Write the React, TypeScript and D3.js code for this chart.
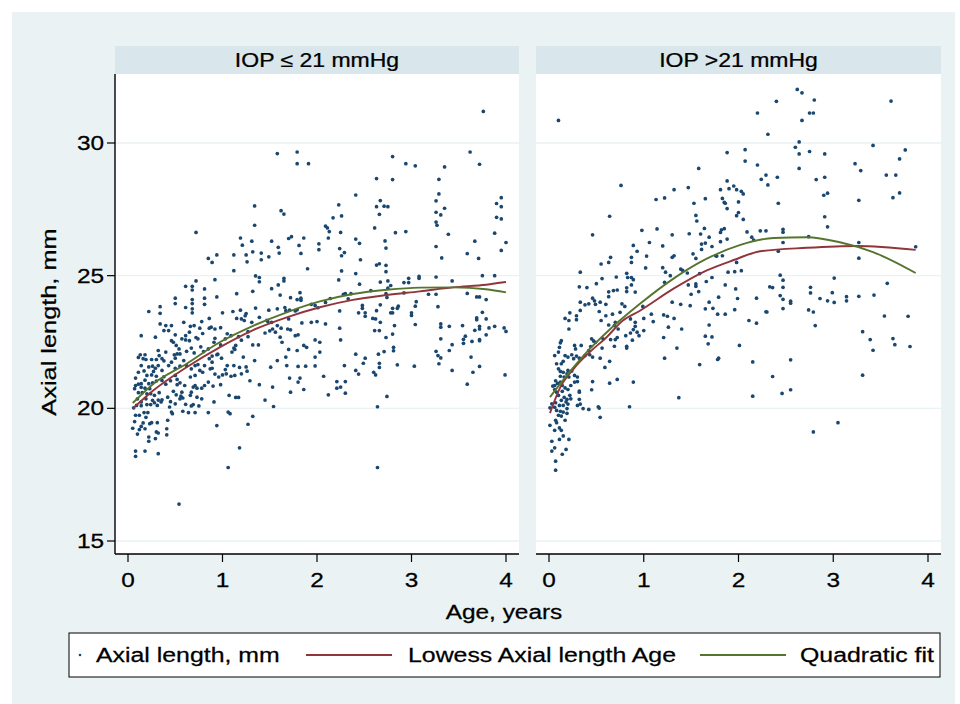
import React from "react";
import * as d3 from "d3";

// axis ticks and labels
const xTicks = [0, 1, 2, 3, 4];
const yTicks = [15, 20, 25, 30];
const panelTitles = ["IOP \u2264 21 mmHg", "IOP >21 mmHg"];
const xTitle = "Age, years";
const yTitle = "Axial length, mm";
const legendLabels = ["Axial length, mm", "Lowess Axial length Age", "Quadratic fit"];

// IOP <= 21: [age, axial length]
const leftPoints: [number, number][] = [
  [1.58,29.6],[1.79,29.66],[1.79,29.22],[1.91,29.22],[1.34,27.63],[1.62,27.45],[1.65,27.32],[1.34,26.9],[0.72,26.63],[1.19,26.42],
  [1.31,26.3],[1.52,26.3],[1.70,26.4],[1.73,26.47],[1.86,26.42],[1.21,26.15],[1.59,26.07],[1.81,26.14],[2.02,26.2],[2.02,25.98],
  [0.85,25.65],[0.89,25.5],[0.94,25.78],[1.12,25.78],[1.25,25.78],[1.32,25.9],[1.41,25.85],[1.41,25.6],[1.49,25.71],[1.60,25.85],
  [1.83,25.84],[1.26,25.52],[1.12,25.19],[1.90,25.26],[0.72,24.8],[0.92,24.85],[0.61,24.6],[0.68,24.6],[0.68,24.46],[0.81,24.5],
  [1.35,24.99],[1.39,24.93],[1.39,24.77],[1.65,24.9],[1.65,24.8],[1.59,24.65],[1.52,24.51],[1.32,24.41],[1.15,24.32],[1.82,24.36],
  [0.5,24.15],[0.5,23.95],[0.34,23.83],[0.22,23.65],[0.61,23.8],[0.68,23.75],[0.68,23.6],[0.68,24.1],[0.68,23.95],[0.81,24.15],
  [0.81,23.92],[0.94,24.2],[1.0,23.6],[0.34,23.58],[1.11,23.65],[1.19,23.7],[1.25,23.57],[1.35,23.78],[1.49,23.7],[1.58,23.75],
  [1.66,23.8],[1.67,23.68],[1.61,24.27],[1.72,24.17],[1.79,24.1],[1.83,24.15],[1.83,24.07],[1.71,23.7],[1.79,23.72],[1.94,23.92],
  [3.76,31.19],[3.62,29.66],[2.80,29.49],[2.94,29.22],[3.04,29.14],[3.35,29.1],[3.72,29.2],[2.63,28.66],[2.80,28.62],[3.29,28.63],
  [2.41,28.04],[3.29,28.08],[3.26,27.82],[2.67,27.83],[2.23,27.67],[2.63,27.6],[2.71,27.62],[2.75,27.6],[2.66,27.31],[3.35,27.54],
  [3.26,27.39],[3.31,27.29],[2.17,27.18],[2.26,27.25],[3.90,27.72],[3.95,27.94],[3.95,27.6],[3.90,27.2],[3.95,27.14],[2.09,26.87],
  [2.11,26.8],[2.13,26.66],[2.25,26.63],[2.61,26.8],[2.83,26.62],[2.94,26.66],[3.26,27.02],[3.27,26.9],[3.39,26.56],[3.88,26.6],
  [2.12,26.42],[2.41,26.38],[2.45,26.22],[2.72,26.31],[2.73,26.04],[2.24,26.02],[2.26,25.75],[2.29,25.87],[2.46,25.6],[3.26,26.1],
  [3.32,25.67],[3.59,25.83],[3.67,26.3],[3.71,25.65],[3.95,25.95],[4.0,26.25],[2.63,25.4],[2.66,25.45],[2.73,25.39],[2.73,25.15],
  [2.26,25.18],[2.41,25.08],[2.23,24.84],[2.45,24.68],[2.67,24.76],[2.75,24.8],[2.78,24.63],[2.75,24.53],[2.92,24.74],[2.97,24.9],
  [2.97,24.74],[3.08,24.97],[3.08,24.9],[3.26,24.95],[3.43,24.8],[3.75,25.0],[3.88,25.0],[2.14,24.14],[2.09,23.99],[2.3,24.32],
  [2.28,24.3],[2.33,24.13],[2.36,24.32],[2.57,24.44],[2.73,24.32],[2.74,24.18],[2.92,24.35],[3.18,24.3],[3.26,24.3],[3.28,23.83],
  [3.05,24.02],[3.04,23.85],[3.59,24.33],[3.69,24.2],[3.72,24.2],[3.79,24.1],[3.75,23.62],[2.48,23.88],[2.48,23.77],[2.67,23.9],
  [2.80,23.77],[2.86,23.85],[2.85,23.77],[2.78,23.6],[2.80,23.6],[2.63,23.68],[2.44,23.6],[2.51,23.6],[2.24,23.67],[1.98,23.88],
  [2.01,23.79],[3.0,23.6],
  [2.64,20.06],[2.64,17.77],[2.74,20.45],[2.12,20.51],[2.30,20.57],[2.21,20.76],[2.25,20.8],[2.21,21.01],[2.30,21.01],[2.07,21.21],
  [1.98,21.6],[1.98,21.93],[2.03,22.12],[2.03,22.49],[1.98,22.58],[2.0,23.27],[2.09,23.18],[2.24,23.02],[2.25,22.58],[2.29,21.61],
  [2.41,22.04],[2.51,21.89],[2.49,21.7],[2.41,21.43],[2.44,21.29],[2.60,21.36],[2.62,21.26],[2.65,22.04],[2.66,21.7],[2.66,21.54],
  [2.71,22.14],[2.73,22.67],[2.81,22.3],[2.81,22.17],[2.80,22.8],[2.82,23.12],[2.85,21.64],[2.61,22.93],[2.66,22.93],[2.67,23.24],
  [2.59,23.39],[2.62,23.37],[2.51,23.47],[3.0,23.5],[3.04,23.16],[3.03,21.59],[3.26,22.15],[3.28,21.99],[3.31,21.9],[3.29,21.68],
  [3.31,23.18],[3.31,23.06],[3.31,22.62],[3.4,23.09],[3.43,22.4],[3.4,22.18],[3.43,21.43],[3.54,23.12],[3.57,22.72],[3.55,22.6],
  [3.55,22.45],[3.64,22.52],[3.63,21.93],[3.65,21.36],[3.59,20.91],[3.72,21.58],[3.67,22.94],[3.72,23.09],[3.72,22.99],[3.69,23.34],
  [3.69,23.41],[3.79,23.37],[3.82,23.03],[3.79,22.77],[3.72,22.59],[3.72,22.55],[3.88,23.09],[3.98,23.03],[4.0,22.9],[3.99,21.26],
  [0.54,16.39],[1.06,17.77],[1.18,18.51],[0.08,18.19],[0.08,18.39],[0.18,18.39],[0.32,18.29],[1.32,19.70],[1.27,19.40],[0.94,19.35],
  [0.22,18.76],[0.22,18.92],[0.29,18.86],[0.30,19.11],[0.32,19.07],[0.41,19.0],[0.41,19.23],[0.10,19.03],[0.05,19.25],[0.07,19.5],
  [0.12,19.2],[0.14,19.32],[0.18,19.23],[0.25,19.46],[0.31,19.46],[0.23,19.42],[0.16,19.45],[0.19,19.66],[0.08,19.74],[0.12,19.74],
  [0.17,19.84],[0.21,19.84],[0.06,20.02],[0.09,20.11],[0.14,20.1],[0.20,20.14],[0.24,20.14],[0.28,20.21],[0.31,20.11],[0.35,20.24],
  [0.32,20.31],[0.26,20.3],[0.19,20.36],[0.14,20.24],[0.10,20.36],[0.07,20.74],[0.08,20.86],[0.11,20.91],[0.14,20.79],[0.18,20.76],
  [0.23,20.74],[0.24,20.55],[0.20,20.55],[0.15,20.59],[0.11,20.59],[0.28,20.49],[0.33,20.59],[0.36,20.32],[0.42,20.42],[0.45,20.25],
  [0.46,19.86],[0.47,19.8],[0.42,19.55],[0.48,20.64],[0.51,20.51],[0.55,20.36],[0.56,20.46],[0.58,19.89],[0.61,20.15],[0.64,19.84],
  [0.67,20.09],[0.71,19.84],[0.75,20.09],[0.78,20.36],[0.67,20.61],[0.69,20.8],[0.71,20.86],[0.73,20.76],[0.60,20.86],[0.55,20.96],
  [0.52,20.89],[0.52,21.09],[0.50,21.24],[0.45,21.04],[0.40,20.91],[0.36,21.05],[0.30,21.03],[0.26,20.96],[0.22,20.93],[0.18,21.06],
  [0.14,20.93],[0.08,21.14],[0.11,21.36],[0.14,21.61],[0.17,21.41],[0.20,21.24],[0.25,21.26],[0.27,21.39],[0.30,21.21],[0.29,21.51],
  [0.32,21.61],[0.36,21.43],[0.38,21.19],[0.26,21.59],[0.22,21.56],[0.19,21.84],[0.16,21.87],[0.11,21.92],[0.13,22.02],[0.18,22.02],
  [0.25,21.84],[0.30,21.84],[0.33,21.99],[0.36,21.87],[0.40,22.12],[0.38,21.79],[0.32,22.18],[0.29,22.68],[0.14,22.74],[0.46,22.55],
  [0.48,22.49],[0.51,22.37],[0.54,22.24],[0.52,22.05],[0.49,22.02],[0.55,22.05],[0.50,21.89],[0.46,21.74],[0.43,21.61],[0.50,21.51],
  [0.55,21.59],[0.59,21.8],[0.61,22.58],[0.65,22.55],[0.67,22.27],[0.62,22.15],[0.70,22.09],[0.71,21.61],[0.74,21.65],[0.76,21.43],
  [0.79,21.36],[0.81,21.61],[0.86,21.87],[0.89,21.97],[0.94,22.02],[0.99,21.89],[0.87,21.49],[0.89,21.51],[0.92,21.29],[0.96,21.18],
  [1.0,21.26],[1.04,21.3],[1.09,21.21],[1.13,21.24],[1.20,21.3],[1.26,21.4],[1.12,21.61],[1.05,21.61],[1.03,21.46],[1.18,21.54],
  [1.25,21.56],[1.29,21.04],[1.34,21.8],[1.39,20.89],[1.45,20.31],[1.54,20.07],[1.53,20.8],[1.51,21.55],[1.58,21.8],[1.67,21.93],
  [1.68,21.61],[1.71,21.14],[1.72,20.61],[1.80,20.99],[1.82,21.14],[1.86,20.71],[1.80,21.58],[1.88,21.59],[1.89,22.3],[1.86,22.37],
  [1.79,22.18],[1.70,22.22],[1.63,22.49],[1.61,22.68],[1.56,22.87],[1.50,22.92],[1.45,22.84],[1.38,22.39],[1.32,22.39],[1.22,21.93],
  [1.17,22.7],[1.14,22.37],[1.12,22.27],[1.09,22.74],[1.05,22.81],[1.03,22.62],[0.98,22.39],[0.92,22.64],[0.91,22.49],[0.85,22.24],
  [0.80,22.14],[0.77,22.32],[0.74,22.62],[0.72,22.67],[0.79,22.82],[0.86,23.02],[0.92,22.99],[0.76,23.02],[0.70,23.12],[0.66,23.09],
  [0.65,22.87],[0.61,22.74],[0.57,22.62],[0.50,22.77],[0.43,22.93],[0.46,23.12],[0.38,22.93],[0.71,21.24],[0.66,21.18],[0.66,20.49],
  [0.73,20.42],[0.58,20.39],[0.85,20.99],[0.90,20.84],[0.98,20.89],[1.07,20.49],[1.14,20.41],[1.17,20.41],[1.06,19.86],[1.08,19.8],
  [0.91,20.24],[0.85,19.84],[0.69,20.14],[0.57,20.61],[0.50,20.17],[0.44,20.05],[0.78,20.76],[0.81,20.86],[0.62,21.61],[0.67,21.49],
  [0.89,21.74],[0.95,22.04],[1.10,22.12],[1.13,22.22],[1.20,22.57],[1.27,22.89],[1.24,23.49],[1.20,23.37],[1.15,23.39],[1.23,23.31],
  [1.31,23.24],[1.39,23.43],[1.47,23.32],[1.52,23.24],[1.58,23.12],[1.62,23.02],[1.69,22.99],[1.72,22.96],[1.77,22.74],[1.80,22.77],
  [1.84,23.22],[1.94,23.24],[1.77,23.67],[1.70,23.37],[1.53,22.99],[1.48,23.27],[1.27,22.7],[0.34,23.18],[0.40,23.12],[0.59,23.24],
  [0.78,23.27],[0.88,23.06],[0.98,23.04],[0.86,23.39],
];

// IOP > 21: [age, axial length]
const rightPoints: [number, number][] = [
  [0.10,30.85],[0.76,28.4],[0.64,27.24],[0.46,26.54],[1.58,29.04],[1.88,29.64],[1.88,28.57],[1.95,28.38],[1.90,28.28],[1.81,28.24],
  [1.98,28.24],[1.47,28.32],[1.32,28.24],[1.22,27.93],[1.13,27.87],[1.53,27.73],[1.65,27.9],[1.55,27.27],[1.56,27.06],[1.83,27.91],
  [1.85,27.76],[1.86,27.73],[1.88,27.53],[1.98,27.26],[2.0,27.38],[2.0,27.78],
  [0.98,26.71],[1.14,26.76],[1.30,26.54],[1.48,26.58],[1.60,26.57],[1.64,26.78],[1.69,26.45],[1.81,26.63],[1.82,26.73],[1.85,26.77],
  [1.88,26.38],[1.81,26.28],[1.65,26.23],[1.61,25.99],[1.61,26.19],[1.72,26.1],[1.77,25.74],[1.83,25.75],[1.30,25.69],[1.32,25.75],
  [1.06,26.25],[1.03,25.74],[0.89,26.14],[0.93,25.92],[0.87,25.69],[0.87,25.5],[1.20,26.12],[1.02,25.29],[0.55,25.44],[0.63,25.5],
  [0.65,25.69],[0.33,25.13],[0.32,24.58],[0.40,24.55],[0.50,24.7],[0.56,24.89],[0.71,24.95],[0.82,25.09],[0.83,24.93],[0.87,24.93],
  [0.89,24.85],[0.87,24.65],[0.82,24.54],[0.82,24.4],[0.91,24.38],[0.72,24.46],[0.68,24.44],[0.63,24.39],[0.63,24.21],[0.46,24.15],
  [0.48,24.05],[0.49,23.92],[0.33,24.0],[0.33,23.69],[0.38,23.9],[0.42,23.94],[0.22,23.6],[0.54,24.0],[0.60,23.92],[0.53,23.65],
  [0.77,23.94],[0.80,23.84],[0.99,23.84],[1.20,25.3],[1.23,25.13],[1.39,25.25],[1.41,25.2],[1.46,25.1],[1.52,25.82],[1.55,25.65],
  [1.59,25.08],[1.55,24.69],[1.55,24.6],[1.47,24.65],[1.50,24.3],[1.39,23.92],[1.58,24.4],[1.66,24.78],[1.72,24.93],[1.76,25.75],
  [1.69,24.0],[1.65,23.75],[1.73,23.77],[1.86,24.65],[1.79,24.19],[1.89,25.13],[1.98,25.5],[1.97,24.5],[1.99,24.14],[1.22,24.75],
  [1.28,25.0],[1.30,24.0],[1.49,23.87],[1.78,23.55],[1.86,23.55],[0.67,23.55],[0.75,23.62],[1.08,23.55],
  [2.62,32.02],[2.67,31.89],[2.40,31.57],[2.80,31.62],[2.20,31.13],[2.75,31.13],[2.79,31.13],[2.67,30.85],[2.31,30.33],[3.61,31.58],
  [2.64,30.04],[2.6,29.84],[2.64,29.59],[2.64,29.04],[2.07,29.75],[2.07,29.32],[2.20,29.17],[2.75,29.68],[2.91,29.59],[3.42,29.91],
  [3.76,29.74],[3.70,29.4],[3.66,28.79],[3.56,28.79],[3.23,29.22],[3.29,28.96],[2.24,28.63],[2.29,28.79],[2.31,28.42],[2.41,28.71],
  [2.82,28.62],[2.91,28.71],[2.90,28.03],[2.94,28.11],[2.03,28.18],[2.05,28.08],[2.42,27.73],[3.70,28.12],[3.63,27.94],[3.27,27.84],
  [2.05,27.12],[2.91,27.22],[2.94,26.84],[2.09,26.65],[2.14,26.45],[2.16,26.34],[2.23,26.69],[2.29,26.69],[2.47,26.75],[2.47,26.64],
  [2.47,26.25],[2.42,25.92],[2.74,26.47],[3.27,26.25],[3.27,25.66],[3.87,26.09],[2.03,25.19],[2.44,25.02],[2.47,24.83],[2.47,24.56],
  [2.33,24.58],[2.36,24.55],[3.01,24.91],[3.57,24.71],[2.76,24.56],[2.76,24.35],[2.19,24.15],[2.44,24.25],[2.47,24.11],[2.55,24.04],
  [2.55,23.96],[2.86,24.14],[2.94,24.05],[3.01,23.99],[2.99,24.36],[3.14,24.21],[3.14,24.05],[3.27,24.22],[3.43,24.27],[1.96,25.15],
  [1.96,23.72],[2.29,23.64],[2.30,23.63],[2.47,23.76],[2.74,23.71],[2.79,23.63],[2.11,23.31],[2.19,23.21],[2.81,23.12],[3.54,23.48],
  [3.79,23.47],[3.31,22.89],[3.39,22.59],[3.42,22.19],[3.63,22.63],[3.65,22.4],[3.81,22.33],[2.01,22.37],[2.15,21.75],[2.55,21.83],
  [2.36,21.2],[3.31,21.25],[2.15,20.46],[2.46,20.56],[2.55,20.7],[3.05,19.46],[2.79,19.11],
  [0.17,23.39],[0.21,23.31],[0.21,22.99],[0.29,23.49],[0.29,23.34],[0.60,23.49],[0.55,23.31],[0.63,23.14],[0.69,23.12],[0.73,22.99],
  [0.70,23.24],[0.86,23.37],[0.91,23.24],[0.91,23.09],[1.0,23.39],[1.0,22.93],[1.10,23.27],[1.21,23.52],[1.25,23.47],[1.26,23.06],
  [1.32,23.39],[1.40,22.99],[1.69,23.14],[1.65,22.72],[1.72,22.69],[1.68,22.43],[1.21,22.67],[1.35,22.27],[1.22,21.89],[1.59,21.65],
  [1.78,21.84],[1.79,21.89],[1.37,20.40],
  [0.13,22.55],[0.12,22.47],[0.11,22.30],[0.06,21.99],[0.08,21.68],[0.13,21.68],[0.10,22.12],[0.17,21.99],[0.20,21.93],[0.15,21.77],
  [0.27,22.37],[0.28,22.24],[0.34,22.37],[0.29,21.97],[0.32,21.89],[0.26,21.87],[0.24,22.02],[0.45,22.62],[0.47,22.54],[0.49,22.49],
  [0.44,22.33],[0.42,22.18],[0.38,21.99],[0.43,22.02],[0.46,21.93],[0.56,22.27],[0.54,21.89],[0.59,21.54],[0.64,21.77],[0.69,22.34],
  [0.70,22.59],[0.72,22.67],[0.81,22.74],[0.82,22.34],[0.82,22.27],[0.88,22.57],[0.89,22.97],[0.86,22.84],[0.93,22.87],[0.95,22.74],
  [0.65,22.59],[0.57,22.62],
  [0.10,21.49],[0.12,21.39],[0.15,21.36],[0.19,21.3],[0.20,21.43],[0.24,21.41],[0.27,21.24],[0.30,21.18],[0.30,21.01],[0.21,21.18],
  [0.16,21.18],[0.12,21.21],[0.07,21.04],[0.04,20.84],[0.06,20.86],[0.09,20.94],[0.12,20.99],[0.14,20.86],[0.17,20.77],[0.20,20.71],
  [0.23,20.86],[0.27,20.99],[0.32,20.65],[0.32,20.34],[0.33,20.16],[0.30,20.11],[0.23,20.36],[0.22,20.49],[0.19,20.34],[0.16,20.41],
  [0.13,20.3],[0.10,20.49],[0.08,20.61],[0.06,20.71],[0.14,20.64],[0.18,20.24],[0.20,20.16],[0.19,19.99],[0.15,20.11],[0.11,20.11],
  [0.07,20.21],[0.03,20.17],[0.01,20.02],[0.06,20.04],[0.08,19.92],[0.12,19.89],[0.15,19.86],[0.19,19.81],[0.17,19.55],[0.13,19.71],
  [0.10,19.74],[0.07,19.55],[0.08,19.46],[0.11,19.26],[0.13,19.17],[0.06,19.17],[0.01,19.36],[0.03,18.76],[0.06,18.51],[0.03,18.39],
  [0.18,18.45],[0.14,18.27],[0.11,18.83],[0.15,18.96],[0.21,18.83],[0.07,18.01],[0.07,17.67],[0.36,19.99],[0.42,19.96],[0.52,20.06],
  [0.53,20.01],[0.54,19.66],[0.46,21.01],[0.45,20.7],[0.32,20.61],[0.72,21.09],[0.64,20.95],[0.89,20.99],[0.85,20.06],
];

// fitted curves: [age, axial length]
const leftLowess: [number, number][] = [
  [0.05,19.99],[0.27,20.68],[0.62,21.55],[0.97,22.3],[1.33,22.96],[1.68,23.43],[2.03,23.81],
  [2.38,24.09],[2.74,24.27],[3.09,24.41],[3.44,24.56],[3.79,24.66],[4.0,24.76],
];
const leftQuad: [number, number][] = [
  [0.05,20.2],[0.27,20.93],[0.62,21.68],[0.97,22.49],[1.33,23.12],[1.68,23.62],[2.03,24.03],
  [2.38,24.31],[2.74,24.47],[3.09,24.55],[3.44,24.56],[3.79,24.49],[4.0,24.37],
];
const rightLowess: [number, number][] = [
  [0.01,19.82],[0.12,20.8],[0.26,21.49],[0.43,22.12],[0.61,22.69],[0.78,23.31],[0.96,23.68],
  [1.31,24.5],[1.66,25.19],[1.95,25.59],[2.23,25.92],[2.72,26.05],[3.25,26.12],[3.87,25.97],
];
const rightQuad: [number, number][] = [
  [0.01,20.42],[0.26,21.55],[0.43,22.24],[0.61,22.87],[0.96,23.94],[1.31,24.88],[1.66,25.63],
  [2.02,26.16],[2.37,26.42],[2.72,26.45],[3.07,26.26],[3.42,25.89],[3.87,25.1],
];

const NAVY = "#1a476f";
const MAROON = "#90353b";
const GREEN = "#55752f";
const BG = "#eaf2f3";
const STRIP = "#d9e6eb";
const FONT = "'Liberation Sans', Arial, sans-serif";

// glyphs in the original are wider than Arial, so text is stretched sideways
function Label(props: any) {
  const { x, y, anchor = "middle", size = 19.5, rotate = 0, sx = 1.25, children } = props;
  return (
    <text
      transform={`translate(${x},${y})${rotate ? ` rotate(${rotate})` : ""} scale(${sx},1)`}
      textAnchor={anchor}
      fontSize={size}
      fontFamily={FONT}
      fill="#000"
      stroke="#000"
      strokeWidth={0.25}
    >
      {children}
    </text>
  );
}

export default function App() {
  const top = 74;
  const bottom = 554;
  const y = d3.scaleLinear().domain([15, 30]).range([541, 143]);

  const panels = [
    { left: 115, right: 519, x: d3.scaleLinear().domain([0, 4]).range([128, 506]), pts: leftPoints, lowess: leftLowess, quad: leftQuad, title: panelTitles[0], yAxis: true },
    { left: 536, right: 941, x: d3.scaleLinear().domain([0, 4]).range([549, 928]), pts: rightPoints, lowess: rightLowess, quad: rightQuad, title: panelTitles[1], yAxis: false },
  ];

  return (
    <svg width={960} height={704} style={{ position: "absolute", left: 0, top: 0 }}>
      <rect x={0} y={0} width={960} height={704} fill="#fff" />
      <rect x={12} y={12} width={943} height={692} fill={BG} />

      {panels.map((p, i) => {
        const line = d3.line<[number, number]>()
          .x((d) => p.x(d[0]))
          .y((d) => y(d[1]))
          .curve(d3.curveMonotoneX);
        const cx = (p.left + p.right) / 2;
        return (
          <g key={i}>
            <rect x={p.left} y={46} width={p.right - p.left} height={top - 46} fill={STRIP} />
            <Label x={cx} y={67} sx={1.18}>{p.title}</Label>
            <rect x={p.left} y={top} width={p.right - p.left} height={bottom - top} fill="#fff" />
            {yTicks.map((t) => (
              <line key={t} x1={p.left} x2={p.right} y1={y(t)} y2={y(t)} stroke={BG} strokeWidth={1.3} />
            ))}
            {p.pts.map((d, j) => (
              <circle key={j} cx={p.x(d[0])} cy={y(d[1])} r={1.85} fill={NAVY} />
            ))}
            <path d={line(p.lowess) || ""} fill="none" stroke={MAROON} strokeWidth={1.9} />
            <path d={line(p.quad) || ""} fill="none" stroke={GREEN} strokeWidth={1.9} />
            <line x1={p.left} x2={p.right} y1={bottom} y2={bottom} stroke="#000" strokeWidth={1.4} />
            {xTicks.map((t) => (
              <g key={t}>
                <line x1={p.x(t)} x2={p.x(t)} y1={bottom} y2={bottom + 8} stroke="#000" strokeWidth={1.2} />
                <Label x={p.x(t)} y={587}>{t}</Label>
              </g>
            ))}
            {p.yAxis && (
              <g>
                <line x1={p.left} x2={p.left} y1={top} y2={bottom} stroke="#000" strokeWidth={1.4} />
                {yTicks.map((t) => (
                  <g key={t}>
                    <line x1={p.left - 8} x2={p.left} y1={y(t)} y2={y(t)} stroke="#000" strokeWidth={1.2} />
                    <Label x={p.left - 11} y={y(t) + 7} anchor="end">{t}</Label>
                  </g>
                ))}
              </g>
            )}
          </g>
        );
      })}

      <Label x={504} y={619}>{xTitle}</Label>
      <Label x={56} y={322} rotate={-90} sx={1.3}>{yTitle}</Label>

      <g>
        <rect x={69} y={633} width={871} height={44} fill="#fff" stroke="#000" strokeWidth={1} />
        <circle cx={80} cy={655} r={1.3} fill={NAVY} />
        <Label x={96} y={662} anchor="start" sx={1.275}>{legendLabels[0]}</Label>
        <line x1={306} x2={392} y1={655} y2={655} stroke={MAROON} strokeWidth={1.9} />
        <Label x={408} y={662} anchor="start" sx={1.275}>{legendLabels[1]}</Label>
        <line x1={700} x2={786} y1={655} y2={655} stroke={GREEN} strokeWidth={1.9} />
        <Label x={800} y={662} anchor="start" sx={1.275}>{legendLabels[2]}</Label>
      </g>
    </svg>
  );
}
